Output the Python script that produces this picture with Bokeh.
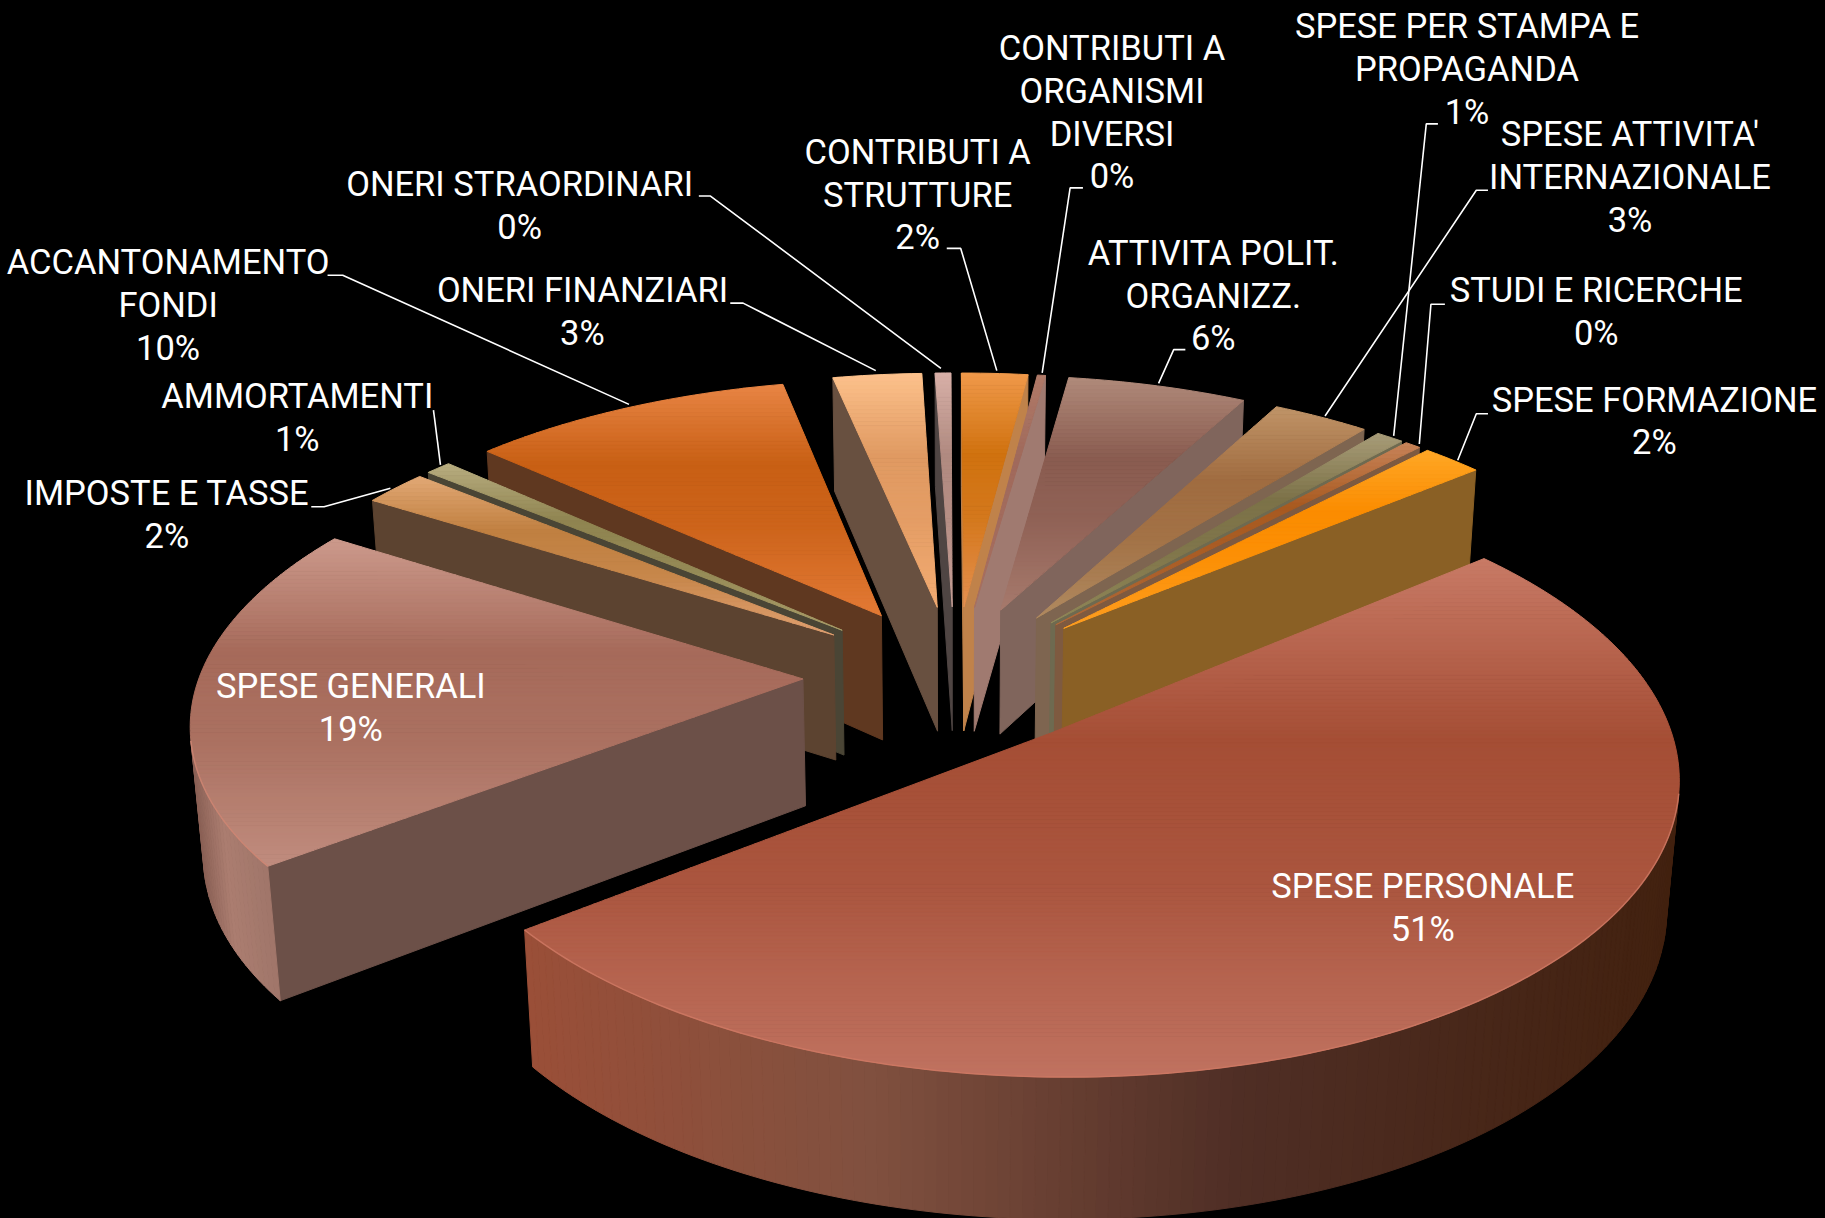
import math
from bokeh.plotting import figure, ColumnDataSource
from bokeh.models import Range1d
from bokeh.core.properties import value
from bokeh.embed import file_html
from bokeh.resources import INLINE

# ---- data (clockwise from the large slice) ----
categories = [
    ["SPESE PERSONALE"], ["SPESE GENERALI"], ["IMPOSTE E TASSE"], ["AMMORTAMENTI"],
    ["ACCANTONAMENTO", "FONDI"], ["ONERI FINANZIARI"], ["ONERI STRAORDINARI"],
    ["CONTRIBUTI A", "STRUTTURE"], ["CONTRIBUTI A", "ORGANISMI", "DIVERSI"],
    ["ATTIVITA POLIT.", "ORGANIZZ."], ["SPESE ATTIVITA'", "INTERNAZIONALE"],
    ["SPESE PER STAMPA E", "PROPAGANDA"], ["STUDI E RICERCHE"], ["SPESE FORMAZIONE"],
]
shares = [50.51, 19.29, 2.0, 0.8, 10.0, 2.75, 0.49, 2.05, 0.25, 5.55, 3.0, 0.85, 0.49, 1.87]

# ---- colours: top-face light/dark/light, radial wall ----
top_light = ["#c87a66", "#cc9a8c", "#e2a976", "#b8ad80", "#e88545", "#fdc28c", "#d8b0a8",
             "#f0994a", "#b07a68", "#b08a7a", "#c09468", "#a89c78", "#c8845a", "#ffa726"]
top_dark = ["#a54e35", "#a66a5a", "#c08040", "#8f8450", "#c85f14", "#e09a62", "#b08a80",
            "#d0720f", "#a06a5c", "#8a5c50", "#a06c40", "#7c7248", "#a85a20", "#fb8c00"]
top_low = ["#c07260", "#c08c7e", "#e0a070", "#a89c68", "#e27a35", "#f2ab72", "#c8a098",
           "#e59050", "#a87060", "#a67a6c", "#b08a60", "#908858", "#b06a3a", "#ff9e20"]
wall = ["#7a4c40", "#6c5048", "#5c4330", "#4a4535", "#5f3820", "#685040", "#4f4543",
        "#c0824a", "#a07a70", "#80655c", "#7e6550", "#6e6a50", "#7e5a40", "#8a6025"]
big_rim = [(0.0, "#9a4f38"), (0.3, "#80503f"), (0.62, "#4f2e25"), (1.0, "#42210f")]
gen_rim = [(0.0, "#8a6055"), (0.4, "#ab7d70"), (1.0, "#a0766a")]

# ---- view of the pie ----
S = 1825 / 1568
CX, CY, F = 820 * S, 580 * S, 3445 * S
D, TILT = 6.6, math.radians(27.87)
ST, CT = math.sin(TILT), math.cos(TILT)
EXPLODE, RADIUS, HEIGHT = 0.25, 0.993, 0.24
START = 39.5
CAM = (0.0, -D * CT, D * ST)


def project(x, y, z=0.0):
    yc = y * ST + z * CT
    zc = D + y * CT - z * ST
    return CX + F * x / zc, CY - F * yc / zc


def hex2rgb(c):
    return [int(c[i:i + 2], 16) for i in (1, 3, 5)]


def lerp(a, b, t):
    ra, rb = hex2rgb(a), hex2rgb(b)
    return "#%02x%02x%02x" % tuple(int(round(p + (q - p) * t)) for p, q in zip(ra, rb))


def ramp(stops, t):
    for (t0, c0), (t1, c1) in zip(stops, stops[1:]):
        if t <= t1:
            return lerp(c0, c1, (t - t0) / (t1 - t0))
    return stops[-1][1]


def clip(poly, lim, keep_above):
    out = []
    for i, (x0, y0) in enumerate(poly):
        x1, y1 = poly[(i + 1) % len(poly)]
        in0 = (y0 >= lim) if keep_above else (y0 <= lim)
        in1 = (y1 >= lim) if keep_above else (y1 <= lim)
        if in0:
            out.append((x0, y0))
        if in0 != in1:
            k = (lim - y0) / (y1 - y0)
            out.append((x0 + (x1 - x0) * k, lim))
    return out


xs, ys, cols = [], [], []


def add(poly, col):
    if len(poly) >= 3:
        xs.append([q[0] for q in poly])
        ys.append([q[1] for q in poly])
        cols.append(col)


def faces_camera(px, py, nx, ny):
    return (CAM[0] - px) * nx + (CAM[1] - py) * ny > 0


total = sum(shares)
slices = []
ang = START
for i, v in enumerate(shares):
    span = 360 * v / total
    a0, a1 = ang, ang - span
    ang = a1
    mid = math.radians((a0 + a1) / 2)
    ax, ay = EXPLODE * math.cos(mid), EXPLODE * math.sin(mid)
    gx = ax + 0.5 * RADIUS * math.cos(mid)
    gy = ay + 0.5 * RADIUS * math.sin(mid)
    dist = math.hypot(gx - CAM[0], gy - CAM[1])
    slices.append((dist, i, a0, a1, ax, ay))

rim_lines_x, rim_lines_y, rim_line_col = [], [], []
for dist, i, a0, a1, ax, ay in sorted(slices, reverse=True):
    n = max(3, int((a0 - a1) / 1.0))
    thetas = [math.radians(a0 + (a1 - a0) * k / n) for k in range(n + 1)]
    rim = [(ax + RADIUS * math.cos(t), ay + RADIUS * math.sin(t)) for t in thetas]
    t0, t1 = thetas[0], thetas[-1]
    p0, p1 = rim[0], rim[-1]
    for pt, nx, ny in ((p0, -math.sin(t0), math.cos(t0)), (p1, math.sin(t1), -math.cos(t1))):
        if faces_camera(ax, ay, nx, ny):
            add([project(ax, ay), project(*pt), project(pt[0], pt[1], -HEIGHT),
                 project(ax, ay, -HEIGHT)], wall[i])
    visible = []
    for k in range(n):
        tm = (thetas[k] + thetas[k + 1]) / 2
        if faces_camera(rim[k][0], rim[k][1], math.cos(tm), math.sin(tm)):
            visible.append(k)
    if visible:
        sx = [project(*rim[k])[0] for k in visible] + [project(*rim[visible[-1] + 1])[0]]
        xmin, xmax = min(sx), max(sx)
        stops = big_rim if i == 0 else gen_rim if i == 1 else [(0, wall[i]), (1, wall[i])]
        for k in visible:
            a, b = rim[k], rim[k + 1]
            xm = (project(*a)[0] + project(*b)[0]) / 2
            col = ramp(stops, (xm - xmin) / max(xmax - xmin, 1))
            add([project(*a), project(*b), project(b[0], b[1], -HEIGHT),
                 project(a[0], a[1], -HEIGHT)], col)
        if i in (0, 1):
            line = [project(*rim[k]) for k in visible] + [project(*rim[visible[-1] + 1])]
            rim_lines_x.append([q[0] for q in line])
            rim_lines_y.append([q[1] for q in line])
            rim_line_col.append(lerp(top_low[i], "#e08068", 0.5))
    face = [project(ax, ay)] + [project(*q) for q in rim]
    ymin = min(q[1] for q in face)
    ymax = max(q[1] for q in face)
    stops = [(0, top_light[i]), (0.35, top_dark[i]),
             (0.62, lerp(top_dark[i], top_low[i], 0.2)), (1, top_low[i])]
    bands = max(6, int((ymax - ymin) / 4))
    for b in range(bands):
        y0 = ymin + (ymax - ymin) * b / bands
        y1 = ymin + (ymax - ymin) * (b + 1) / bands
        part = clip(clip(face, y0, True), y1, False)
        add(part, ramp(stops, (b + 0.5) / bands))

# ---- label layout (centre x, first-line y, in reference pixels of the 1568 view) ----
label_x = [1222, 301, 143, 255, 144, 500, 446, 788, 955, 1042, 1400, 1260, 1371, 1421]
label_y = [761, 589, 423, 340, 225, 249, 158, 130, 41, 217, 115, 22, 249, 343]
LINE = 36.7
leaders = [
    None, None,
    [(267, 435), (278, 435), (335, 419)],
    [(372, 352), (378, 399)],
    [(281, 236), (294, 236), (540, 347)],
    [(627, 260), (638, 260), (752, 318)],
    [(600, 168), (610, 168), (808, 316)],
    [(813, 213), (825, 213), (856, 318)],
    [(930, 161), (919, 161), (895, 320)],
    [(1018, 300), (1008, 300), (995, 329)],
    [(1278, 163), (1268, 163), (1138, 357)],
    [(1235, 106), (1225, 106), (1197, 374)],
    [(1241, 261), (1229, 261), (1219, 381)],
    [(1278, 355), (1268, 355), (1252, 395)],
]

tx, ty, tt = [], [], []
for i, lines in enumerate(categories):
    pct = f"{round(shares[i])}%"
    for k, s in enumerate(lines + [pct]):
        tx.append(label_x[i] * S)
        ty.append((label_y[i] + k * LINE) * S)
        tt.append(s)

p = figure(width=1825, height=1218, output_backend="svg", toolbar_location=None,
           x_range=Range1d(0, 1825), y_range=Range1d(1218, 0), min_border=0,
           background_fill_color="#000000", border_fill_color="#000000",
           outline_line_color=None)
p.axis.visible = False
p.grid.visible = False

p.patches(xs="xs", ys="ys", fill_color="c", line_color="c", line_width=1,
          source=ColumnDataSource(dict(xs=xs, ys=ys, c=cols)))
p.multi_line(xs="xs", ys="ys", line_color="c", line_width=1.5, line_alpha=0.8,
             source=ColumnDataSource(dict(xs=rim_lines_x, ys=rim_lines_y, c=rim_line_col)))
lx = [[q[0] * S for q in L] for L in leaders if L]
ly = [[q[1] * S for q in L] for L in leaders if L]
p.multi_line(xs=lx, ys=ly, line_color="#ffffff", line_width=1.6)
p.text(x=tx, y=ty, text=tt, text_color="#ffffff", text_align="center",
       text_baseline="middle", text_font=value("Roboto"), text_font_size="34.5px")

html = file_html(p, INLINE)
html = html.replace("</head>", "<style>html,body{margin:0;padding:0;background:#000;overflow:hidden}</style></head>", 1)
open("out.html", "w").write(html)
